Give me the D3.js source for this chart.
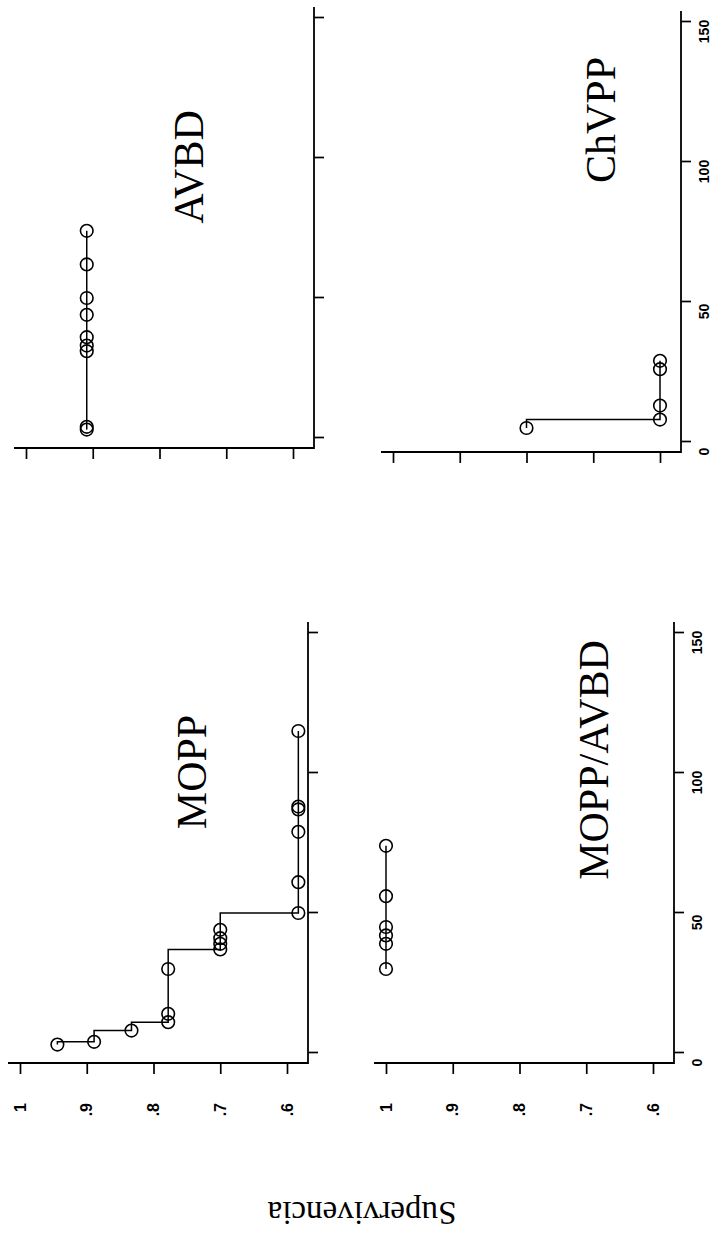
<!DOCTYPE html>
<html>
<head>
<meta charset="utf-8">
<script src="https://cdn.jsdelivr.net/npm/d3@7"></script>
<style>
  body { margin: 0; background: #fff; }
  .tick text { font-family: "Liberation Sans", Arial, sans-serif; font-weight: bold; fill: #000; }
</style>
</head>
<body>
<div id="chart"></div>
<script>
var panelNames = ["MOPP", "AVBD", "MOPP/AVBD", "ChVPP"]

var moppTimes = [3, 4, 8, 11, 14, 30, 37, 39, 41, 44, 50, 61, 79, 87, 88, 115]
var moppSurv  = [.944, .889, .833, .778, .778, .778, .700, .700, .700, .700, .583, .583, .583, .583, .583, .583]

var avbdTimes = [3, 4, 31, 33, 36, 44, 50, 62, 74]
var avbdSurv  = [.909, .909, .909, .909, .909, .909, .909, .909, .909]

var moppAvbdTimes = [30, 39, 42, 45, 56, 74]
var moppAvbdSurv  = [1, 1, 1, 1, 1, 1]

var chvppTimes = [5, 8, 13, 26, 29]
var chvppSurv  = [.8, .6, .6, .6, .6]

var timeTicks = [0, 50, 100, 150]
var survTicks = [1, .9, .8, .7, .6]
var survTickLabels = ["1", ".9", ".8", ".7", ".6"]
var yTitle = "Supervivencia"

var series = [
  [moppTimes, moppSurv],
  [avbdTimes, avbdSurv],
  [moppAvbdTimes, moppAvbdSurv],
  [chvppTimes, chvppSurv]
]

// the figure is laid out landscape (W x H) and then turned a quarter left,
// like the scanned page
var W = 1233, H = 720

// t0: pixel of time 0, s1: pixel of survival 1, tx/ty: title position
var layout = [
  {t0: 180, s1: 20,  tx: 461,  ty: 206, survLabels: true,  timeLabels: false},
  {t0: 795, s1: 26,  tx: 1066, ty: 203, survLabels: false, timeLabels: false},
  {t0: 180, s1: 386, tx: 473,  ty: 608, survLabels: true,  timeLabels: true},
  {t0: 791, s1: 393, tx: 1113, ty: 615, survLabels: false, timeLabels: true}
]

var svg = d3.select("#chart").append("svg")
  .attr("width", H)
  .attr("height", W)
  .style("background", "#fff")

var page = svg.append("g")
  .attr("transform", "translate(0," + W + ") rotate(-90)")

function drawPanel(i){
  var L = layout[i]
  var times = series[i][0], surv = series[i][1]

  var x = d3.scaleLinear().domain([0, 150]).range([L.t0, L.t0 + 420])
  var y = d3.scaleLinear().domain([.6, 1]).range([L.s1 + 267, L.s1])

  var left = L.t0 - 10, bottom = L.s1 + 288
  var g = page.append("g").attr("class", "panel")

  // L shaped box
  g.append("path")
    .attr("d", "M" + left + "," + (L.s1 - 12) + "V" + bottom + "H" + (L.t0 + 431))
    .attr("fill", "none")
    .attr("stroke", "#000")
    .attr("stroke-width", 1.8)

  var yAxis = d3.axisLeft(y)
    .tickValues(survTicks)
    .tickSize(11)
    .tickPadding(29)
    .tickFormat((d, k) => L.survLabels ? survTickLabels[k] : "")

  var ya = g.append("g")
    .attr("transform", "translate(" + left + ",0)")
    .call(yAxis)
  ya.select(".domain").remove()
  ya.selectAll("line").attr("stroke-width", 1.7)
  ya.selectAll("text").style("font-size", "16px")

  var xAxis = d3.axisBottom(x)
    .tickValues(timeTicks)
    .tickSize(10)
    .tickPadding(8)
    .tickFormat(d => L.timeLabels ? d : "")

  var xa = g.append("g")
    .attr("transform", "translate(0," + bottom + ")")
    .call(xAxis)
  xa.select(".domain").remove()
  xa.selectAll("line").attr("stroke-width", 1.7)
  xa.selectAll("text").style("font-size", "14px").attr("dx", -10)

  var pts = times.map((t, k) => [t, surv[k]])

  var line = d3.line()
    .x(d => x(d[0]))
    .y(d => y(d[1]))
    .curve(d3.curveStepAfter)

  g.append("path")
    .attr("d", line(pts))
    .attr("fill", "none")
    .attr("stroke", "#000")
    .attr("stroke-width", 1.5)

  g.selectAll("circle")
    .data(pts)
    .enter()
      .append("circle")
      .attr("cx", d => x(d[0]))
      .attr("cy", d => y(d[1]))
      .attr("r", 6.3)
      .attr("fill", "none")
      .attr("stroke", "#000")
      .attr("stroke-width", 1.6)

  g.append("text")
    .text(panelNames[i])
    .attr("x", L.tx)
    .attr("y", L.ty)
    .attr("text-anchor", "middle")
    .style("font-family", "'Liberation Serif', 'Times New Roman', serif")
    .style("font-size", "42px")
}

panelNames.forEach((d, i) => drawPanel(i))

page.append("text")
  .text(yTitle)
  .attr("transform", "translate(31,362) rotate(-90)")
  .attr("text-anchor", "middle")
  .style("font-family", "'Liberation Serif', 'Times New Roman', serif")
  .style("font-size", "33px")
</script>
</body>
</html>
